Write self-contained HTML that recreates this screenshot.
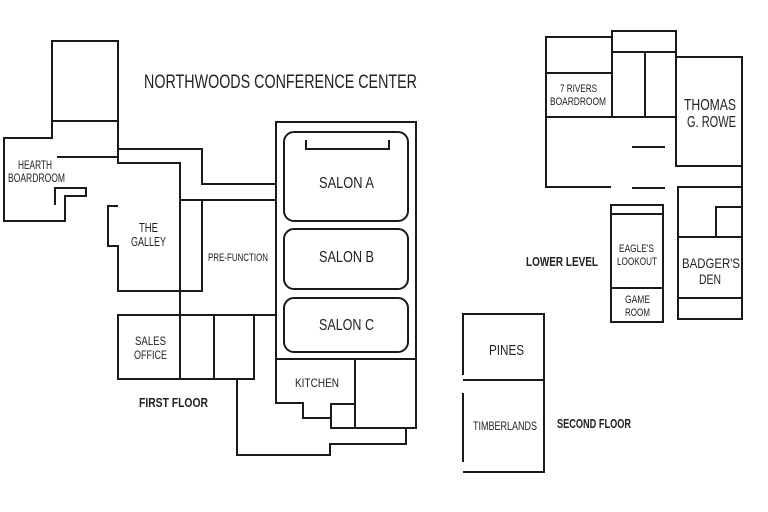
<!DOCTYPE html>
<html><head><meta charset="utf-8"><style>
html,body{margin:0;padding:0;background:#fff;}
svg{display:block;}
text{font-family:"Liberation Sans",sans-serif;fill:#222;}
</style></head><body>
<svg width="768" height="512" viewBox="0 0 768 512" xmlns="http://www.w3.org/2000/svg">
<g fill="none" stroke="#1a1a1a" stroke-width="2" stroke-linejoin="miter">
<rect x="52" y="41" width="66" height="80"/>
<polyline points="52,121 52,138 4,138 4,221 65,221 65,196 86,196 86,188 55,188 55,205"/>
<line x1="57" y1="157" x2="118" y2="157"/>
<polyline points="118,121 118,163 180,163 180,315"/>
<polyline points="118,149 202,149 202,184 276,184"/>
<line x1="180" y1="200" x2="276" y2="200"/>
<polyline points="118,206 108,206 108,246 118,246 118,291 202,291 202,200"/>
<rect x="118" y="315" width="136" height="64"/>
<line x1="180" y1="315" x2="180" y2="379"/>
<line x1="214" y1="315" x2="214" y2="379"/>
<line x1="254" y1="315" x2="276" y2="315"/>
<polyline points="237,379 237,455 330,455 330,444 406,444 406,428"/>
<polyline points="276,359 276,122 416,122 416,428 331,428 331,418 303,418 303,403 276,403 276,359"/>
<line x1="276" y1="359" x2="416" y2="359"/>
<line x1="355" y1="359" x2="355" y2="428"/>
<polyline points="331,418 331,404 355,404"/>
<rect x="284" y="132" width="124" height="89" rx="10"/>
<polyline points="306,140 306,149 389,149 389,140"/>
<rect x="284" y="229" width="124" height="60" rx="10"/>
<rect x="284" y="298" width="124" height="54" rx="10"/>
<polyline points="612,37 546,37 546,187 611,187"/>
<rect x="612" y="31" width="64" height="21"/>
<line x1="612" y1="52" x2="612" y2="117"/>
<line x1="645" y1="52" x2="645" y2="117"/>
<line x1="676" y1="52" x2="676" y2="117"/>
<line x1="546" y1="73" x2="612" y2="73"/>
<line x1="546" y1="117" x2="676" y2="117"/>
<polyline points="676,57 742,57 742,319 678,319 678,187 742,187"/>
<polyline points="676,57 676,166 742,166"/>
<line x1="632" y1="147" x2="665" y2="147"/>
<line x1="632" y1="188" x2="665" y2="188"/>
<rect x="611" y="205" width="52" height="117"/>
<line x1="611" y1="214" x2="663" y2="214"/>
<line x1="611" y1="288" x2="663" y2="288"/>
<line x1="678" y1="237" x2="742" y2="237"/>
<line x1="678" y1="298" x2="742" y2="298"/>
<polyline points="716,237 716,207 742,207"/>
<polyline points="463,375 463,314 544,314 544,472 463,472"/>
<line x1="463" y1="393" x2="463" y2="462"/>
<line x1="463" y1="380" x2="544" y2="380"/>
</g>
<g font-size="13" lengthAdjust="spacingAndGlyphs">
<text x="144" y="88" font-size="19" textLength="273" lengthAdjust="spacingAndGlyphs">NORTHWOODS CONFERENCE CENTER</text>
<text x="18" y="169" font-size="12" textLength="34" lengthAdjust="spacingAndGlyphs">HEARTH</text>
<text x="8" y="182" font-size="12" textLength="57" lengthAdjust="spacingAndGlyphs">BOARDROOM</text>
<text x="139" y="232" textLength="19" lengthAdjust="spacingAndGlyphs">THE</text>
<text x="131" y="246" textLength="35" lengthAdjust="spacingAndGlyphs">GALLEY</text>
<text x="208" y="261" font-size="11" textLength="60" lengthAdjust="spacingAndGlyphs">PRE-FUNCTION</text>
<text x="319" y="188" font-size="16" textLength="55" lengthAdjust="spacingAndGlyphs">SALON A</text>
<text x="319" y="262" font-size="16" textLength="55" lengthAdjust="spacingAndGlyphs">SALON B</text>
<text x="319" y="330" font-size="16" textLength="55" lengthAdjust="spacingAndGlyphs">SALON C</text>
<text x="135" y="345" font-size="12" textLength="31" lengthAdjust="spacingAndGlyphs">SALES</text>
<text x="134" y="359" font-size="12" textLength="33" lengthAdjust="spacingAndGlyphs">OFFICE</text>
<text x="295" y="387" font-size="12" textLength="44" lengthAdjust="spacingAndGlyphs">KITCHEN</text>
<text x="139" y="407" font-weight="bold" textLength="69" lengthAdjust="spacingAndGlyphs">FIRST FLOOR</text>
<text x="560" y="92" font-size="11" textLength="37" lengthAdjust="spacingAndGlyphs">7 RIVERS</text>
<text x="550" y="105" font-size="11" textLength="56" lengthAdjust="spacingAndGlyphs">BOARDROOM</text>
<text x="684" y="110" font-size="16" textLength="52" lengthAdjust="spacingAndGlyphs">THOMAS</text>
<text x="687" y="127" font-size="16" textLength="49" lengthAdjust="spacingAndGlyphs">G. ROWE</text>
<text x="619" y="252" font-size="11" textLength="35" lengthAdjust="spacingAndGlyphs">EAGLE'S</text>
<text x="617" y="265" font-size="11" textLength="40" lengthAdjust="spacingAndGlyphs">LOOKOUT</text>
<text x="625" y="303" font-size="11" textLength="25" lengthAdjust="spacingAndGlyphs">GAME</text>
<text x="625" y="316" font-size="11" textLength="25" lengthAdjust="spacingAndGlyphs">ROOM</text>
<text x="682" y="268" font-size="14" textLength="58" lengthAdjust="spacingAndGlyphs">BADGER'S</text>
<text x="699" y="284" font-size="14" textLength="22" lengthAdjust="spacingAndGlyphs">DEN</text>
<text x="526" y="266" font-weight="bold" textLength="72" lengthAdjust="spacingAndGlyphs">LOWER LEVEL</text>
<text x="489" y="355" font-size="15" textLength="35" lengthAdjust="spacingAndGlyphs">PINES</text>
<text x="473" y="430" font-size="12" textLength="64" lengthAdjust="spacingAndGlyphs">TIMBERLANDS</text>
<text x="557" y="428" font-weight="bold" textLength="74" lengthAdjust="spacingAndGlyphs">SECOND FLOOR</text>
</g>
</svg>
</body></html>
